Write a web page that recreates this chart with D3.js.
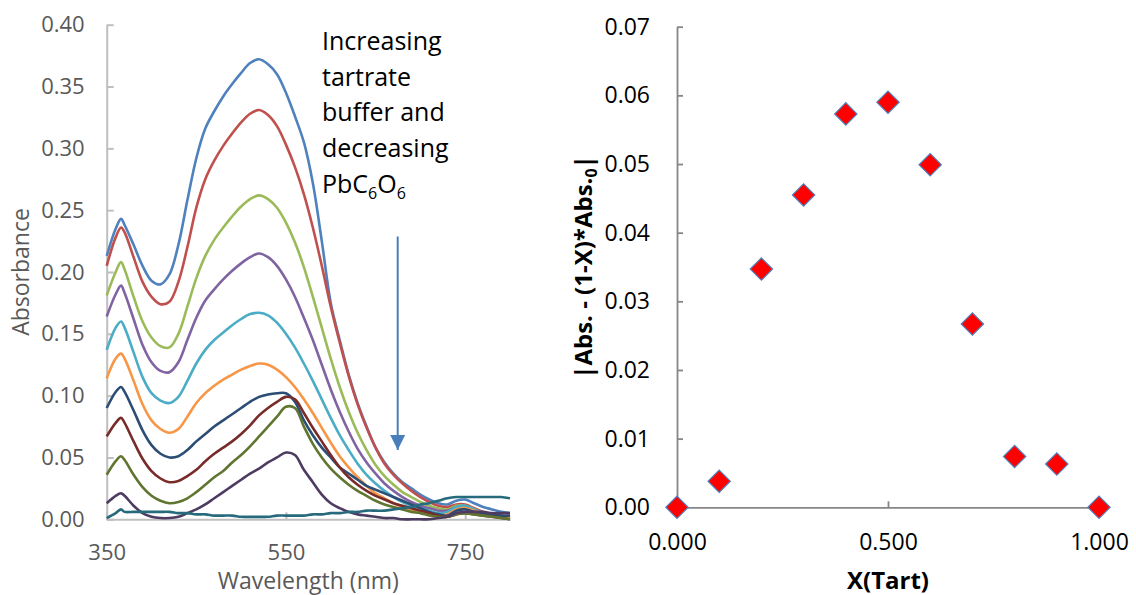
<!DOCTYPE html>
<html>
<head>
<meta charset="utf-8">
<script src="https://cdn.jsdelivr.net/npm/d3@7"></script>
<style>
  html, body { margin: 0; padding: 0; background: #ffffff; }
  svg { display: block; font-family: "Open Sans", sans-serif; }
</style>
</head>
<body>
<svg id="chart" width="1136" height="595"></svg>
<script>
// ---------------- DATA ----------------
const wavelengths = [350,360,366,370,380,390,400,410,420,430,440,450,460,470,480,490,500,510,520,530,540,550,560,570,580,590,600,610,620,630,640,650,660,670,680,690,700,710,720,730,740,750,760,770,780,790,800];

const s1 = [0.213,0.235,0.243,0.238,0.222,0.205,0.193,0.190,0.198,0.222,0.258,0.292,0.316,0.330,0.342,0.352,0.361,0.369,0.372,0.368,0.360,0.345,0.326,0.305,0.272,0.225,0.175,0.145,0.117,0.094,0.075,0.058,0.046,0.037,0.030,0.025,0.020,0.016,0.013,0.012,0.015,0.016,0.013,0.010,0.008,0.006,0.005];
const s2 = [0.205,0.228,0.236,0.232,0.212,0.192,0.180,0.174,0.176,0.192,0.220,0.252,0.275,0.290,0.302,0.312,0.321,0.328,0.331,0.327,0.318,0.303,0.285,0.263,0.236,0.205,0.172,0.143,0.116,0.093,0.074,0.058,0.045,0.036,0.029,0.023,0.018,0.014,0.011,0.010,0.012,0.012,0.009,0.006,0.004,0.003,0.002];
const s3 = [0.181,0.200,0.208,0.202,0.180,0.160,0.147,0.140,0.139,0.150,0.172,0.195,0.213,0.226,0.236,0.245,0.253,0.259,0.262,0.259,0.252,0.240,0.224,0.204,0.180,0.155,0.130,0.107,0.087,0.070,0.056,0.044,0.035,0.028,0.022,0.018,0.014,0.011,0.009,0.008,0.011,0.011,0.008,0.005,0.003,0.002,0.001];
const s4 = [0.164,0.182,0.189,0.183,0.162,0.141,0.127,0.120,0.119,0.127,0.145,0.163,0.177,0.186,0.194,0.201,0.207,0.212,0.215,0.212,0.205,0.194,0.180,0.163,0.145,0.125,0.105,0.087,0.071,0.057,0.046,0.037,0.029,0.023,0.018,0.014,0.011,0.009,0.007,0.007,0.010,0.010,0.007,0.005,0.003,0.002,0.001];
const s5 = [0.137,0.155,0.160,0.155,0.135,0.115,0.102,0.096,0.094,0.099,0.112,0.126,0.137,0.145,0.151,0.157,0.162,0.166,0.167,0.165,0.159,0.150,0.139,0.126,0.112,0.097,0.082,0.068,0.056,0.045,0.036,0.029,0.023,0.018,0.014,0.011,0.009,0.007,0.005,0.006,0.010,0.011,0.008,0.005,0.003,0.002,0.001];
const s6 = [0.114,0.130,0.134,0.130,0.112,0.093,0.080,0.073,0.070,0.073,0.083,0.094,0.102,0.108,0.113,0.117,0.121,0.124,0.126,0.125,0.121,0.115,0.107,0.097,0.086,0.074,0.062,0.051,0.042,0.034,0.027,0.021,0.017,0.013,0.010,0.008,0.006,0.004,0.003,0.004,0.008,0.009,0.007,0.005,0.003,0.002,0.001];
const s7 = [0.090,0.103,0.107,0.103,0.088,0.072,0.060,0.053,0.050,0.051,0.056,0.063,0.069,0.075,0.080,0.085,0.090,0.095,0.099,0.101,0.102,0.102,0.095,0.080,0.068,0.058,0.050,0.042,0.037,0.032,0.027,0.024,0.021,0.018,0.015,0.012,0.009,0.006,0.004,0.003,0.007,0.008,0.006,0.005,0.004,0.003,0.003];
const s8 = [0.067,0.078,0.082,0.078,0.063,0.049,0.039,0.033,0.030,0.031,0.035,0.040,0.047,0.053,0.058,0.063,0.069,0.076,0.084,0.090,0.095,0.099,0.097,0.086,0.074,0.063,0.052,0.042,0.034,0.028,0.023,0.019,0.016,0.013,0.011,0.009,0.007,0.005,0.003,0.002,0.004,0.005,0.004,0.003,0.002,0.001,0.000];
const s9 = [0.036,0.047,0.051,0.048,0.036,0.026,0.019,0.015,0.013,0.014,0.017,0.022,0.028,0.034,0.039,0.046,0.052,0.059,0.067,0.075,0.083,0.091,0.090,0.075,0.061,0.050,0.041,0.034,0.028,0.023,0.019,0.015,0.012,0.010,0.008,0.006,0.005,0.003,0.002,0.002,0.004,0.005,0.004,0.003,0.002,0.001,0.000];
const s10 = [0.013,0.019,0.021,0.019,0.011,0.005,0.002,0.001,0.001,0.002,0.005,0.008,0.012,0.017,0.022,0.027,0.032,0.037,0.041,0.046,0.050,0.054,0.052,0.040,0.030,0.020,0.013,0.009,0.006,0.004,0.003,0.002,0.001,0.001,0.000,0.000,0.000,0.000,0.001,0.002,0.005,0.006,0.006,0.006,0.005,0.005,0.005];
const s11 = [0.001,0.005,0.008,0.006,0.006,0.006,0.006,0.006,0.006,0.005,0.005,0.004,0.004,0.003,0.003,0.003,0.002,0.002,0.002,0.002,0.003,0.003,0.003,0.003,0.004,0.004,0.005,0.005,0.006,0.006,0.007,0.007,0.007,0.008,0.009,0.010,0.012,0.013,0.015,0.017,0.018,0.018,0.018,0.018,0.018,0.018,0.017];

const spectra = [s1, s2, s3, s4, s5, s6, s7, s8, s9, s10, s11];

const absTicks = [0, 0.05, 0.10, 0.15, 0.20, 0.25, 0.30, 0.35, 0.40];
const wlTicks = [350, 550, 750];

const xTart = [0, 0.1, 0.2, 0.3, 0.4, 0.5, 0.6, 0.7, 0.8, 0.9, 1.0];
const jobValues = [0, 0.0038, 0.0347, 0.0455, 0.0573, 0.0590, 0.0499, 0.0267, 0.0074, 0.0063, 0];
const jobYTicks = [0, 0.01, 0.02, 0.03, 0.04, 0.05, 0.06, 0.07];
const jobXTicks = [0, 0.5, 1.0];

const noteLines = ["Increasing", "tartrate", "buffer and", "decreasing"];

// ---------------- STYLE ----------------
const seriesColors = ["#4F81BD","#C0504D","#9BBB59","#8064A2","#4BACC6","#F79646",
                      "#2C4D75","#772C2A","#5F7530","#4D3B62","#276A7C"];

const svg = d3.select("#chart");

// ================= LEFT CHART =================
const xL = d3.scaleLinear().domain([350, 800]).range([106.7, 510]);
const yL = d3.scaleLinear().domain([0, 0.40]).range([519.3, 24.7]);

const gL = svg.append("g");

const yAxisL = d3.axisLeft(yL).tickValues(absTicks).tickFormat(d3.format(".2f"))
  .tickSizeInner(-7).tickSizeOuter(0).tickPadding(22);
const xAxisL = d3.axisBottom(xL).tickValues(wlTicks).tickFormat(d3.format("d"))
  .tickSizeInner(-7).tickSizeOuter(0).tickPadding(25);

const gyL = gL.append("g").attr("transform", `translate(${xL(350)},0)`).call(yAxisL);
const gxL = gL.append("g").attr("transform", `translate(0,${yL(0)})`).call(xAxisL);
[gyL, gxL].forEach(g => {
  g.select(".domain").attr("stroke", "#BFBFBF").attr("stroke-width", 2);
  g.selectAll(".tick line").attr("stroke", "#BFBFBF").attr("stroke-width", 2);
  g.selectAll(".tick text").attr("fill", "#595959").style("font-size", "22px")
    .style("font-family", "'Open Sans', sans-serif");
});

const lineL = d3.line()
  .x((d, i) => xL(wavelengths[i]))
  .y(d => yL(d))
  .curve(d3.curveCatmullRom.alpha(0.5));

gL.append("g").selectAll("path").data(spectra).join("path")
  .attr("d", d => lineL(d))
  .attr("fill", "none")
  .attr("stroke", (d, i) => seriesColors[i])
  .attr("stroke-width", 2.6)
  .attr("stroke-linejoin", "round");

gL.append("text")
  .attr("x", (xL(350) + xL(800)) / 2).attr("y", 589)
  .attr("text-anchor", "middle").attr("fill", "#595959")
  .style("font-size", "23px").text("Wavelength (nm)");

gL.append("text")
  .attr("transform", `translate(29,${(yL(0) + yL(0.4)) / 2}) rotate(-90)`)
  .attr("text-anchor", "middle").attr("fill", "#595959")
  .style("font-size", "23px").text("Absorbance");

const note = gL.append("text").attr("fill", "#000000").style("font-size", "25px");
noteLines.forEach((t, i) => {
  note.append("tspan").attr("x", 322).attr("y", 50 + i * 35.7).text(t);
});
const last = gL.append("text").attr("x", 322).attr("y", 50 + 4 * 35.7)
  .attr("fill", "#000000").style("font-size", "25px");
last.append("tspan").text("PbC");
last.append("tspan").attr("dy", 6).style("font-size", "16px").text("6");
last.append("tspan").attr("dy", -6).text("O");
last.append("tspan").attr("dy", 6).style("font-size", "16px").text("6");

const defs = svg.append("defs");
defs.append("marker").attr("id", "arrowHead")
  .attr("viewBox", "0 0 10 10").attr("refX", 10).attr("refY", 5)
  .attr("markerUnits", "userSpaceOnUse")
  .attr("markerWidth", 15).attr("markerHeight", 16).attr("orient", "auto")
  .append("path").attr("d", "M0,0 L10,5 L0,10 Z").attr("fill", "#4A7EBB");

gL.append("line")
  .attr("x1", 397.7).attr("y1", 236.5).attr("x2", 397.7).attr("y2", 450)
  .attr("stroke", "#4A7EBB").attr("stroke-width", 2)
  .attr("marker-end", "url(#arrowHead)");

// ================= RIGHT CHART =================
const xR = d3.scaleLinear().domain([0, 1]).range([677, 1099]);
const yR = d3.scaleLinear().domain([0, 0.07]).range([507.3, 26.7]);

const gR = svg.append("g");

const yAxisR = d3.axisLeft(yR).tickValues(jobYTicks).tickFormat(d3.format(".2f"))
  .tickSizeInner(-6).tickSizeOuter(0).tickPadding(27);
const xAxisR = d3.axisBottom(xR).tickValues(jobXTicks).tickFormat(d3.format(".3f"))
  .tickSizeInner(-6).tickSizeOuter(0).tickPadding(26);

const gyR = gR.append("g").attr("transform", `translate(${xR(0)},0)`).call(yAxisR);
const gxR = gR.append("g").attr("transform", `translate(0,${yR(0)})`).call(xAxisR);
[gyR, gxR].forEach(g => {
  g.select(".domain").attr("stroke", "#868686").attr("stroke-width", 1.8);
  g.selectAll(".tick line").attr("stroke", "#868686").attr("stroke-width", 1.8);
  g.selectAll(".tick text").attr("fill", "#000000").style("font-size", "23px")
    .style("font-family", "'Open Sans', sans-serif");
});

const diamond = d3.symbol().type(d3.symbolSquare).size(250);
gR.append("g").selectAll("path").data(jobValues).join("path")
  .attr("d", diamond())
  .attr("transform", (d, i) => `translate(${xR(xTart[i])},${yR(d)}) rotate(45)`)
  .attr("fill", "#FF0000")
  .attr("stroke", "#4F81BD").attr("stroke-width", 1.2);

gR.append("text")
  .attr("x", xR(0.5)).attr("y", 589)
  .attr("text-anchor", "middle").attr("fill", "#000000")
  .style("font-size", "24px").style("font-weight", "bold").text("X(Tart)");

const yt = gR.append("text")
  .attr("transform", `translate(592,${(yR(0) + yR(0.07)) / 2}) rotate(-90)`)
  .attr("text-anchor", "middle").attr("fill", "#000000")
  .style("font-size", "24px").style("font-weight", "bold");
yt.append("tspan").text("|Abs. - (1-X)*Abs.");
yt.append("tspan").attr("dy", 5).style("font-size", "16px").text("0");
yt.append("tspan").attr("dy", -5).text("|");
</script>
</body>
</html>
